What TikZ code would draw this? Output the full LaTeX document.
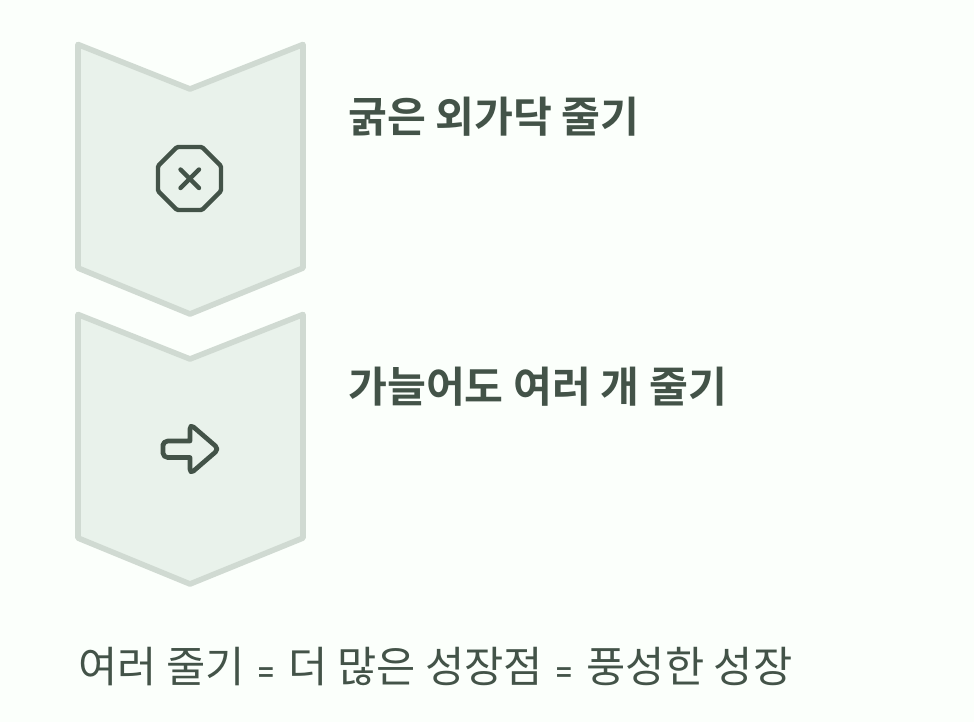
\documentclass[tikz,border=0pt]{standalone}
\usepackage{fontspec}
\newfontfamily\krfont{Noto Sans CJK KR}
\newfontfamily\krbold{Noto Sans CJK KR Bold}
\usetikzlibrary{positioning}
\definecolor{pagebg}{HTML}{FBFFFB}
\definecolor{chevfill}{HTML}{E9F2EB}
\definecolor{chevline}{HTML}{D0DAD2}
\definecolor{inkgreen}{HTML}{435348}
\newcommand{\eqmark}{\hspace{10pt}{\krbold\fontsize{20}{22}\selectfont =}\hspace{10.9pt}}

\begin{document}
\begin{tikzpicture}[
            x=0.75pt,y=-0.75pt,
            chevron/.style={draw=chevline, fill=chevfill, line width=4.2pt, line join=round},
            icon/.style={draw=inkgreen, line width=3.3pt, line join=round, line cap=round},
            headnode/.style={anchor=base west, inner sep=0pt, text=inkgreen, font=\krbold\fontsize{31.7}{36}\selectfont},
            notenode/.style={anchor=base west, inner sep=0pt, text=inkgreen, font=\krfont\fontsize{32}{36}\selectfont},
            ]
            \fill[pagebg] (0,0) rectangle (974,722);
            \useasboundingbox (0,0) rectangle (974,722);

            % Chevrons
            \draw[chevron] (78,44.5) -- (190,89) -- (303,44.5) -- (303,268) -- (190,314) -- (78,268) -- cycle;
            \draw[chevron] (78,314.5) -- (190,359) -- (303,314.5) -- (303,538) -- (190,584) -- (78,538) -- cycle;

            % Icons
            \draw[icon, rounded corners=1pt] (177,147) -- (202,147) -- (221,166) -- (221,191) -- (202,210) -- (177,210) -- (158,191) -- (158,166) -- cycle;
            \draw[icon] (180.5,169.5) -- (199,188);
            \draw[icon] (199,169.5) -- (180.5,188);
            \draw[icon, line width=3.5pt] [rounded corners=3.5pt] (163,449) -- (163,441) -- (178,441) [sharp corners] -- (190,441) -- (190,432) [rounded corners=3.5pt] -- (190,424) -- (219,449) -- (190,474) [sharp corners] -- (190,466) -- (190,457.5) -- (178,457.5) [rounded corners=3.5pt] -- (163,457.5) -- cycle;

            % Labels
            \node[headnode] (thickstem) at (348,132) {굵은 외가닥 줄기};
            \node[headnode] (thinstems) at (348,402) {가늘어도 여러 개 줄기};
            \node[notenode] (summary) at (78,682) {여러 줄기\eqmark 더 많은 성장점\eqmark 풍성한 성장};
        \end{tikzpicture}
\end{document}
